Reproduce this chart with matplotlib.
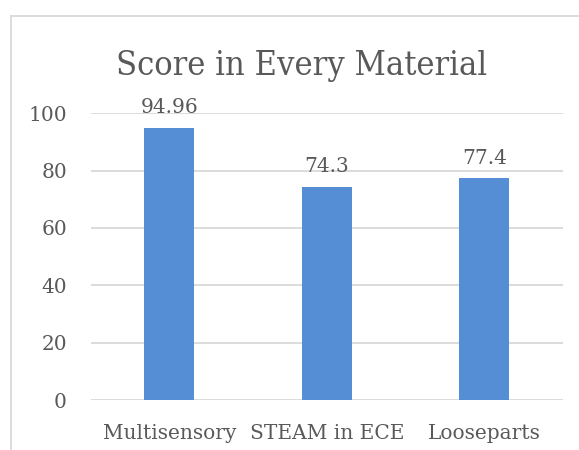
import matplotlib
matplotlib.use("Agg")
import matplotlib.pyplot as plt
from matplotlib.lines import Line2D

categories = ["Multisensory", "STEAM in ECE", "Looseparts"]
values = [94.96, 74.3, 77.4]
value_labels = ["94.96", "74.3", "77.4"]
yticks = [0, 20, 40, 60, 80, 100]

W, H = 579, 450
fig = plt.figure(figsize=(W / 100, H / 100), dpi=100)
plt.rcParams['font.family'] = ['DejaVu Serif']

text_color = "#595959"
grid_color = "#D9D9D9"
bar_color = "#558ED5"
fs = 14.5

ax = fig.add_axes([90.5 / W, 50 / H, (563 - 90.5) / W, (400 - 113.3) / H])
x = list(range(len(categories)))
ax.bar(x, values, width=0.32, color=bar_color, zorder=2)
ax.set_xlim(-0.5, len(categories) - 0.5)
ax.set_ylim(0, 100)
ax.set_yticks(yticks)
ax.set_yticklabels([str(t) for t in yticks])
ax.set_xticks(x)
ax.set_xticklabels(categories)
for s in ax.spines.values():
    s.set_visible(False)
ax.tick_params(axis='both', length=0, labelsize=fs, labelcolor=text_color)
ax.tick_params(axis='y', pad=17)
ax.tick_params(axis='x', pad=17)
ax.grid(axis='y', color=grid_color, linewidth=1.3, zorder=0)
ax.set_axisbelow(True)

for xi, v, lab in zip(x, values, value_labels):
    ax.annotate(lab, (xi, v), xytext=(0, 10.5), textcoords='offset points',
                ha='center', va='baseline', fontsize=fs, color=text_color, zorder=3)

fig.text(302 / W, 1 - 75 / H, "Score in Every Material", ha='center', va='baseline',
         fontsize=24.6, color=text_color, fontstretch='condensed')

fig.add_artist(Line2D([11 / W, 1.0], [1 - 16 / H, 1 - 16 / H], transform=fig.transFigure,
                      color=grid_color, linewidth=1.3))
fig.add_artist(Line2D([11 / W, 11 / W], [0, 1 - 16 / H], transform=fig.transFigure,
                      color=grid_color, linewidth=1.3))

fig.savefig("out.png", dpi=100)
